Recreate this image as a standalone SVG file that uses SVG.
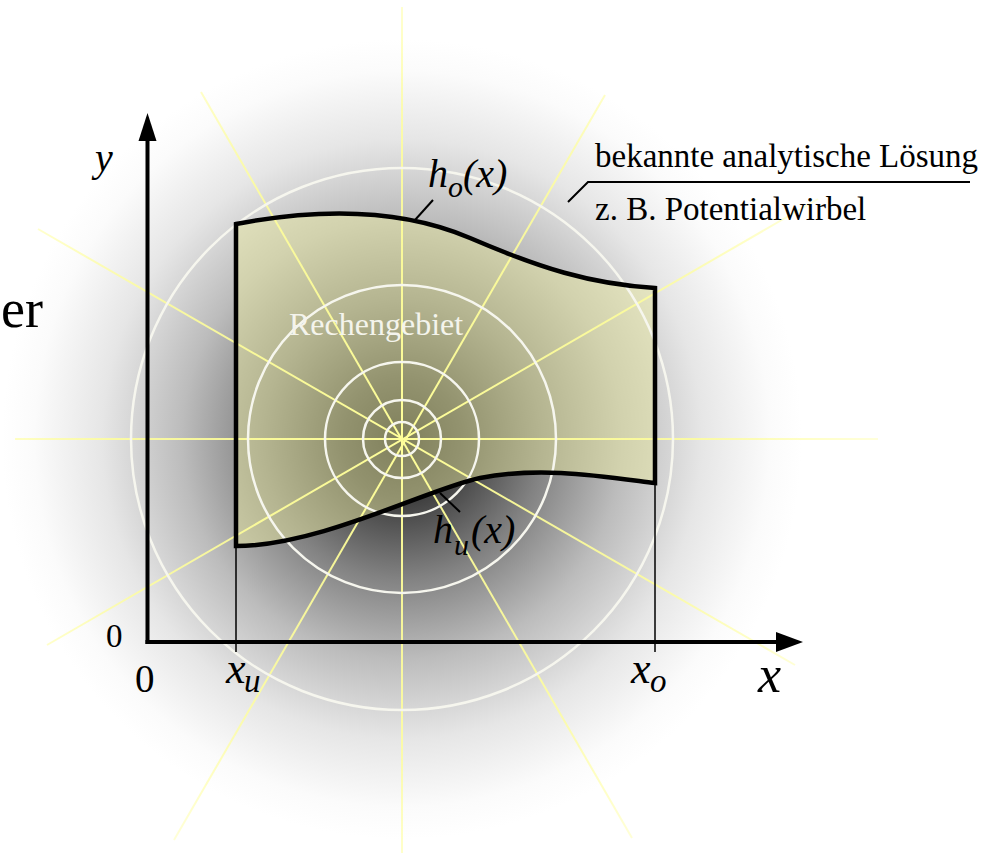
<svg xmlns="http://www.w3.org/2000/svg" width="988" height="855" viewBox="0 0 988 855">
<defs>
<radialGradient id="bg" gradientUnits="userSpaceOnUse" cx="402" cy="439" r="400">
<stop offset="0" stop-color="#181818"/>
<stop offset="0.15" stop-color="#3e3e3e"/>
<stop offset="0.35" stop-color="#828282"/>
<stop offset="0.55" stop-color="#bcbcbc"/>
<stop offset="0.75" stop-color="#e6e6e6"/>
<stop offset="0.92" stop-color="#fbfbfb"/>
<stop offset="1" stop-color="#ffffff"/>
</radialGradient>
<radialGradient id="ray" gradientUnits="userSpaceOnUse" cx="402" cy="439" r="480">
<stop offset="0" stop-color="#ffff9a" stop-opacity="1"/>
<stop offset="0.6" stop-color="#ffff9a" stop-opacity="0.85"/>
<stop offset="1" stop-color="#ffff9a" stop-opacity="0.35"/>
</radialGradient>
<style>
.ray{stroke:url(#ray);stroke-width:2;fill:none}
.ring{stroke:#f6f6ee;stroke-width:2.5;fill:none}
.serif{font-family:"Liberation Serif","Times New Roman",serif;fill:#000}
.it{font-style:italic}
.thin{stroke:#000;stroke-width:1.5;fill:none}
.axis{stroke:#000;stroke-width:4;fill:none}
.ptr{stroke:#000;stroke-width:2;fill:none}
</style>
</defs>
<rect width="988" height="855" fill="#fff"/>
<rect id="background" width="988" height="855" fill="url(#bg)"/>
<g id="region">
<path d="M236,224 C320,208 400,208 470,238 C540,268 590,284 655,288 L655,483 C600,476 540,466 480,478 C430,488 320,546 236,546 Z" fill="#e8e8a0" fill-opacity="0.5"/>
</g>
<g id="potential-vortex">
<line class="ray" x1="15" y1="439" x2="878" y2="439"/>
<line class="ray" x1="402" y1="7" x2="402" y2="853"/>
<line class="ray" x1="201" y1="92" x2="632" y2="838"/>
<line class="ray" x1="605" y1="95" x2="174" y2="840"/>
<line class="ray" x1="818" y1="199" x2="47" y2="645"/>
<line class="ray" x1="38" y1="229" x2="795" y2="665"/>
<circle class="ring" cx="402" cy="439" r="17"/>
<circle class="ring" cx="402" cy="439" r="39"/>
<circle class="ring" cx="402" cy="439" r="77"/>
<circle class="ring" cx="402" cy="439" r="154"/>
<circle class="ring" cx="402" cy="439" r="271"/>
</g>
<g id="region-border">
<path d="M236,224 C320,208 400,208 470,238 C540,268 590,284 655,288 L655,483 C600,476 540,466 480,478 C430,488 320,546 236,546 Z" fill="none" stroke="#000" stroke-width="4.5" stroke-linejoin="miter"/>
</g>
<g id="connectors">
<line class="thin" x1="236" y1="546" x2="236" y2="652"/>
<line class="thin" x1="655" y1="483" x2="655" y2="652"/>
<line class="axis" x1="147.5" y1="644" x2="147.5" y2="138"/>
<polygon points="147.5,113 138.5,141 156.5,141" fill="#000"/>
<line class="axis" x1="145.5" y1="642" x2="778" y2="642"/>
<polygon points="803,642 776,632 776,652" fill="#000"/>
<line class="ptr" x1="433" y1="200" x2="415" y2="220"/>
<line class="ptr" x1="440" y1="493" x2="460" y2="512"/>
<polyline class="ptr" points="568,202 588,182 970,182"/>
</g>
<g id="labels">
<text class="serif" x="1" y="327" font-size="54">er</text>
<text class="serif it" x="95" y="171" font-size="40">y</text>
<text class="serif" x="106" y="647" font-size="33">0</text>
<text class="serif" x="135" y="692" font-size="39">0</text>
<text class="serif it" font-size="44"><tspan x="226" y="683">x</tspan><tspan x="244" y="692" font-size="33">u</tspan></text>
<text class="serif it" font-size="44"><tspan x="631" y="683">x</tspan><tspan x="650" y="692" font-size="33">o</tspan></text>
<text class="serif it" x="758" y="692" font-size="52">x</text>
<text class="serif it" font-size="40"><tspan x="428" y="187">h</tspan><tspan x="448" y="197" font-size="30">o</tspan><tspan x="463" y="187">(x)</tspan></text>
<text class="serif it" font-size="40"><tspan x="433" y="543">h</tspan><tspan x="454" y="555" font-size="30">u</tspan><tspan x="471" y="543">(x)</tspan></text>
<text class="serif" x="289" y="335" font-size="32" style="fill:#f4f4ec">Rechengebiet</text>
<text class="serif" x="595" y="167" font-size="33">bekannte analytische Lösung</text>
<text class="serif" x="595" y="220" font-size="33">z. B. Potentialwirbel</text>
</g>
</svg>
